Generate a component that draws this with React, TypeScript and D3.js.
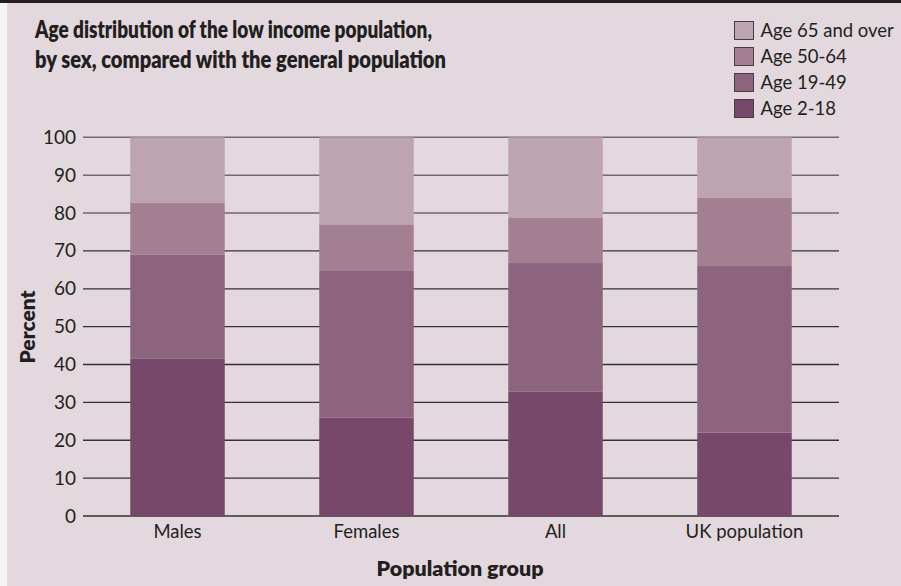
import React from "react";
import * as d3 from "d3";

const categories = ["Males", "Females", "All", "UK population"];
const seriesNames = ["Age 2-18", "Age 19-49", "Age 50-64", "Age 65 and over"];
const age2to18 = [41.5, 26, 32.8, 22];
const age19to49 = [27.5, 38.7, 34, 44];
const age50to64 = [13.7, 12.3, 11.9, 18];
const age65plus = [17.3, 23, 21.3, 16];
const yTicks = [0, 10, 20, 30, 40, 50, 60, 70, 80, 90, 100];
const colors = ["#77486a", "#8c647d", "#a28092", "#bda4b0"];

const W = 901;
const H = 586;

export default function App() {
  const x = d3.scaleBand<string>().domain(categories).range([83, 839]).paddingInner(0.5).paddingOuter(0.25);
  const y = d3.scaleLinear().domain([0, 100]).range([516, 137.3]);

  const rows = categories.map((c, i) => ({
    cat: c,
    "Age 2-18": age2to18[i],
    "Age 19-49": age19to49[i],
    "Age 50-64": age50to64[i],
    "Age 65 and over": age65plus[i],
  }));
  const stack = d3.stack<any>().keys(seriesNames);
  const layers = stack(rows);

  const font = "Lato, 'Open Sans', sans-serif";
  const legendOrder = [3, 2, 1, 0];

  return (
    <svg width={W} height={H} style={{ position: "absolute", left: 0, top: 0 }} fontFamily={font}>
      <rect x={0} y={0} width={W} height={H} fill="#f7f3f5" />
      <rect x={7} y={3} width={W - 7} height={H - 3} fill="#e2d8de" />
      <rect x={0} y={0} width={W} height={3} fill="#231f20" />

      <text x={35} y={38} fontSize={25} fontWeight={800} fill="#231f20" textLength={397} lengthAdjust="spacingAndGlyphs">
        Age distribution of the low income population,
      </text>
      <text x={35} y={68} fontSize={25} fontWeight={800} fill="#231f20" textLength={411} lengthAdjust="spacingAndGlyphs">
        by sex, compared with the general population
      </text>

      {legendOrder.map((si, r) => (
        <g key={si} transform={`translate(734.5, ${21.5 + r * 26})`}>
          <rect width={19} height={18} fill={colors[si]} stroke="#4a3a44" strokeWidth={1} />
          <text x={26} y={15} fontSize={18.5} fill="#231f20">
            {seriesNames[si]}
          </text>
        </g>
      ))}

      {yTicks.map((t) => (
        <g key={t}>
          <line x1={83} x2={839} y1={y(t)} y2={y(t)} stroke={t >= 80 ? "#6e6a6c" : "#333"} strokeWidth={t >= 80 ? 1.5 : 1.3} />
          <text x={76} y={y(t) + 6.5} textAnchor="end" fontSize={19} fill="#231f20">
            {t}
          </text>
        </g>
      ))}

      {layers.map((layer, li) => (
        <g key={li} fill={colors[li]}>
          {layer.map((d: any, i: number) => (
            <rect key={i} x={x(categories[i])} width={x.bandwidth()} y={y(d[1])} height={y(d[0]) - y(d[1])} />
          ))}
        </g>
      ))}

      {categories.map((c) => (
        <text key={c} x={(x(c) as number) + x.bandwidth() / 2} y={538} textAnchor="middle" fontSize={18.5} fill="#231f20">
          {c}
        </text>
      ))}

      <text x={460} y={576} textAnchor="middle" fontSize={20} fontWeight={800} fill="#231f20" textLength={167} lengthAdjust="spacingAndGlyphs">
        Population group
      </text>
      <text transform="translate(35, 327) rotate(-90)" textAnchor="middle" fontSize={20} fontWeight={800} fill="#231f20" textLength={73} lengthAdjust="spacingAndGlyphs">
        Percent
      </text>
    </svg>
  );
}
